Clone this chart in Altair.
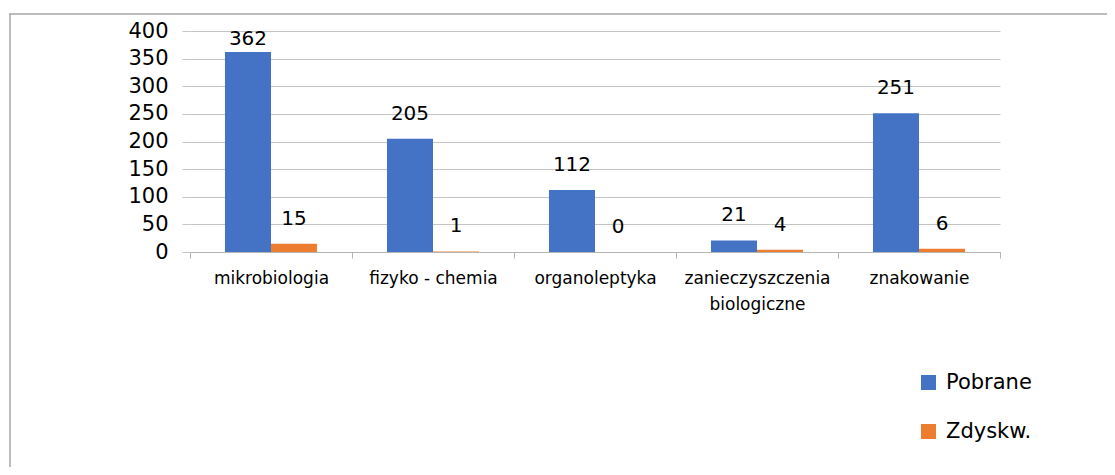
import altair as alt
import pandas as pd

categories = ["mikrobiologia", "fizyko - chemia", "organoleptyka",
              "zanieczyszczenia biologiczne", "znakowanie"]
series = ["Pobrane", "Zdyskw."]
pobrane = [362, 205, 112, 21, 251]
zdyskw = [15, 1, 0, 4, 6]
y_ticks = [0, 50, 100, 150, 200, 250, 300, 350, 400]
colors = ["#4472C4", "#ED7D31"]

rows = []
for i, c in enumerate(categories):
    rows.append({"kat": c, "seria": series[0], "wartosc": pobrane[i]})
    rows.append({"kat": c, "seria": series[1], "wartosc": zdyskw[i]})
df = pd.DataFrame(rows)

W, H = 810, 221
FONT = "DejaVu Sans"

x_axis = alt.Axis(
    title=None, labelAngle=0, tickBand="extent", tickSize=6,
    tickColor="#b4b4b4", domainColor="#b4b4b4", labelFontSize=17,
    labelColor="#000000", labelPadding=12, labelLineHeight=26,
    labelBaseline="top",
    labelExpr="length(datum.label) > 20 ? split(datum.label, ' ') : datum.label",
)
y_axis = alt.Axis(title=None, values=y_ticks, domain=False,
                  tickSize=8, tickColor="#c4c4c4", gridColor="#c4c4c4",
                  labelFontSize=21, labelColor="#000000", labelPadding=14)
y_scale = alt.Scale(domain=[0, 400], nice=False)
x_scale = alt.Scale(paddingInner=0, paddingOuter=0)
xoff = alt.XOffset("seria:N", sort=series,
                   scale=alt.Scale(paddingInner=0, paddingOuter=0.76))

bars = alt.Chart(df).mark_bar().encode(
    x=alt.X("kat:N", sort=categories, scale=x_scale, axis=x_axis),
    xOffset=xoff,
    y=alt.Y("wartosc:Q", scale=y_scale, axis=y_axis),
    color=alt.Color("seria:N", sort=series,
                    scale=alt.Scale(domain=series, range=colors),
                    legend=alt.Legend(title=None, orient="none", legendX=728,
                                      legendY=341, symbolType="square",
                                      symbolSize=225, symbolStrokeWidth=0,
                                      labelFontSize=21, labelColor="#000000",
                                      rowPadding=27, labelOffset=7, padding=0)),
)

labels = alt.Chart(df).transform_calculate(
    ylab="min(datum.wartosc, 341)"
).mark_text(fontSize=20, dy=-19, baseline="alphabetic", color="#000000").encode(
    x=alt.X("kat:N", sort=categories, scale=x_scale, axis=x_axis),
    xOffset=xoff,
    y=alt.Y("ylab:Q", scale=y_scale, axis=y_axis),
    text=alt.Text("wartosc:Q"),
)

one = pd.DataFrame({"a": [0]})
border_top = alt.Chart(one).mark_rule(color="#a6a6a6", strokeWidth=1.5).encode(
    x=alt.value(-181), x2=alt.value(917), y=alt.value(-17))
border_left = alt.Chart(one).mark_rule(color="#a6a6a6", strokeWidth=1.5).encode(
    x=alt.value(-180), y=alt.value(-17), y2=alt.value(436))

chart = alt.layer(border_top, border_left, bars, labels).properties(
    width=W, height=H, autosize="none",
    padding={"left": 182, "top": 23, "right": 107, "bottom": 215},
).configure(font=FONT).configure_view(stroke=None)

chart.save("out.html", embed_options={"renderer": "svg", "actions": False})
